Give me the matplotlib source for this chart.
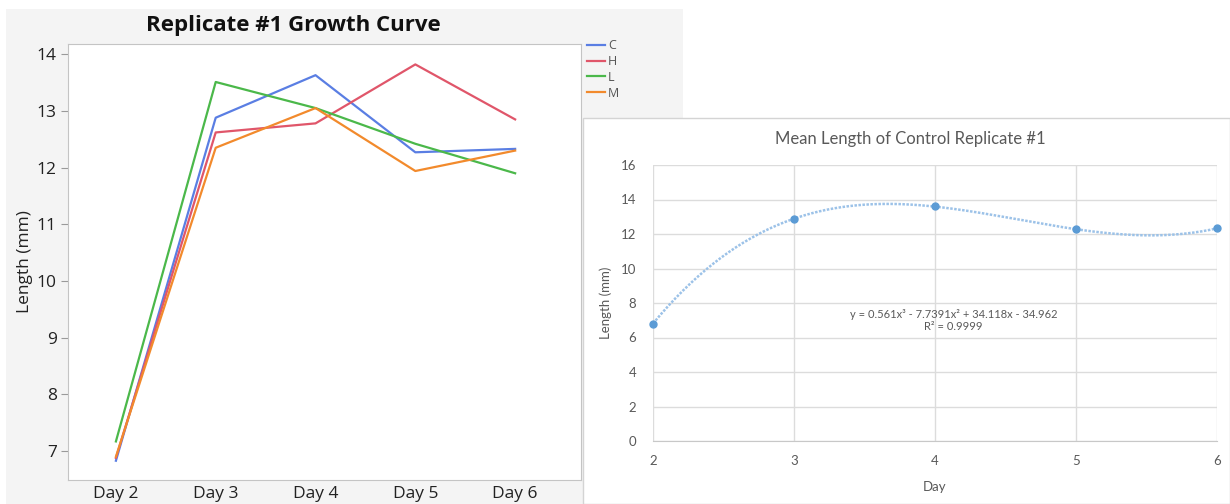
import numpy as np
import matplotlib.pyplot as plt
from matplotlib.patches import Rectangle

# left chart: replicate #1 lengths per treatment
days = ["Day 2", "Day 3", "Day 4", "Day 5", "Day 6"]
c_len = [6.83, 12.88, 13.63, 12.27, 12.33]
h_len = [6.88, 12.62, 12.78, 13.82, 12.85]
l_len = [7.17, 13.51, 13.05, 12.42, 11.90]
m_len = [6.90, 12.35, 13.05, 11.94, 12.30]

# right chart: mean length of control
day_num = [2, 3, 4, 5, 6]
control_mean = [6.81, 12.88, 13.60, 12.27, 12.33]

fig = plt.figure(figsize=(12.3, 5.04), dpi=100)
W, H = 1230, 504

# panel backgrounds
fig.patches.append(Rectangle((6 / W, 0), 677 / W, (H - 9) / H, transform=fig.transFigure,
                             facecolor="#f4f4f4", edgecolor="none", zorder=-2))
fig.patches.append(Rectangle((583 / W, 0), (W - 583) / W, (H - 118) / H, transform=fig.transFigure,
                             facecolor="white", edgecolor="#d4d4d4", linewidth=1, zorder=-1))

# ---- left chart
ax1 = fig.add_axes([68 / W, 1 - 480 / H, 513 / W, 436 / H])
ax1.set_zorder(2)
ax1.set_facecolor("white")
x = np.arange(len(days))
ax1.plot(x, c_len, color="#5a7ee3", lw=1.6, label="C")
ax1.plot(x, h_len, color="#e0566a", lw=1.6, label="H")
ax1.plot(x, l_len, color="#4bb84a", lw=1.6, label="L")
ax1.plot(x, m_len, color="#f28a2c", lw=1.6, label="M")
ax1.set_xlim(-0.48, 4.66)
ax1.set_ylim(6.49, 14.18)
ax1.set_xticks(x)
ax1.set_xticklabels(days)
ax1.set_yticks([7, 8, 9, 10, 11, 12, 13, 14])
for s in ax1.spines.values():
    s.set_color("#c4c4c4")
ax1.tick_params(axis="y", length=5, color="#9a9a9a", labelsize=12.5, labelcolor="#222222", pad=3)
ax1.tick_params(axis="x", length=0, labelsize=12.5, labelcolor="#222222", pad=4)
for lab in ax1.get_xticklabels() + ax1.get_yticklabels():
    lab.set_family("Open Sans")
ax1.set_ylabel("Length (mm)", fontsize=12.5, family="Open Sans", color="#222222", labelpad=3)
fig.text(293 / W, 1 - 25 / H, "Replicate #1 Growth Curve", fontsize=16, fontweight="bold",
         family="Open Sans", color="#111111", ha="center", va="center")
leg = ax1.legend(loc="upper left", bbox_to_anchor=(1.0, 1.025), frameon=False,
                 handlelength=1.4, handletextpad=0.25, labelspacing=0.22,
                 prop={"family": "Open Sans", "size": 9}, borderaxespad=0.1)
for t in leg.get_texts():
    t.set_color("#555555")

# ---- right chart
ax2 = fig.add_axes([653 / W, 1 - 441 / H, 564 / W, 276 / H])
ax2.set_zorder(3)
ax2.set_facecolor("white")
coef = np.polyfit(day_num, control_mean, 3)
xs = np.linspace(2, 6, 300)
ax2.plot(xs, np.polyval(coef, xs), color="#9cc2e8", lw=1.8, ls=(0, (1, 0.6)), zorder=3)
ax2.plot(day_num, control_mean, "o", color="#5b9bd5", ms=5, zorder=4, clip_on=False)
ax2.set_xlim(2, 6)
ax2.set_ylim(0, 16)
ax2.set_xticks(day_num)
ax2.set_yticks(range(0, 17, 2))
ax2.grid(True, color="#dcdcdc", lw=1)
for k in ["top", "right", "left"]:
    ax2.spines[k].set_visible(False)
ax2.spines["bottom"].set_color("#c8c8c8")
ax2.tick_params(length=0, labelsize=9.5, labelcolor="#595959")
ax2.tick_params(axis="x", pad=10)
ax2.tick_params(axis="y", pad=12)
for lab in ax2.get_xticklabels() + ax2.get_yticklabels():
    lab.set_family("Lato")
ax2.set_xlabel("Day", fontsize=9.5, family="Lato", color="#595959", labelpad=10)
ax2.set_ylabel("Length (mm)", fontsize=9.5, family="Lato", color="#595959", labelpad=6)
fig.text(910 / W, 1 - 139 / H, "Mean Length of Control Replicate #1", fontsize=12,
         family="Lato", color="#595959", ha="center", va="center")
ax2.text(4.13, 7.0, "y = 0.561x³ - 7.7391x² + 34.118x - 34.962\nR² = 0.9999",
         ha="center", va="center", fontsize=8, family="Lato", color="#595959",
         linespacing=1.1)

fig.savefig("out.png", dpi=100, facecolor="white")
